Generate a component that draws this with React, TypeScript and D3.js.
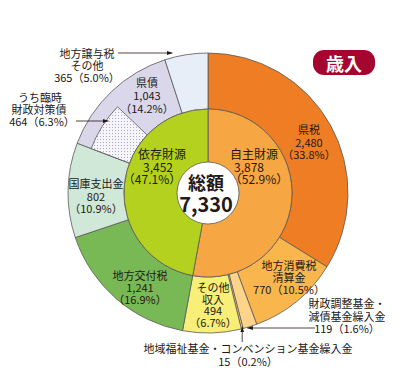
import * as d3 from 'd3';

// 歳入 (outer ring, clockwise from 12 o'clock)
const categories = [
  '県税',
  '地方消費税清算金',
  '財政調整基金・減債基金繰入金',
  '地域福祉基金・コンベンション基金繰入金',
  'その他収入',
  '地方交付税',
  '国庫支出金',
  '県債',
  '地方譲与税その他',
];
const values = [2480, 770, 119, 15, 494, 1241, 802, 1043, 365];
const shares = ['33.8%', '10.5%', '1.6%', '0.2%', '6.7%', '16.9%', '10.9%', '14.2%', '5.0%'];

// inner ring
const groups = ['自主財源', '依存財源'];
const groupValues = [3878, 3452];
const groupShares = ['52.9%', '47.1%'];

// part of 県債
const subName = 'うち臨時財政対策債';
const subValue = 464;
const subShare = '6.3%';

const totalLabel = '総額';
const total = 7330;

const outerColors = ['#ee7d23', '#f9b64d', '#fdd48a', '#fdd48a', '#f8ef78', '#78b956', '#cfe8d8', '#dad7ea', '#e7eef7'];
const groupColors = ['#f6a642', '#b4d11f'];

// label layout: name lines, whether value/share share a line, centre of first line
const labelLayout: { lines: string[]; joined: boolean; x: number; y: number; lh: number }[] = [
  { lines: ['県税'], joined: false, x: 309, y: 129, lh: 12.5 },
  { lines: ['地方消費税', '清算金'], joined: true, x: 289, y: 265, lh: 12 },
  { lines: ['財政調整基金・', '減債基金繰入金'], joined: true, x: 347, y: 303, lh: 12.5 },
  { lines: ['地域福祉基金・コンベンション基金繰入金'], joined: true, x: 248, y: 348, lh: 12.5 },
  { lines: ['その他', '収入'], joined: false, x: 213, y: 287, lh: 11.7 },
  { lines: ['地方交付税'], joined: false, x: 140, y: 275, lh: 11.8 },
  { lines: ['国庫支出金'], joined: false, x: 96, y: 183, lh: 12.5 },
  { lines: ['県債'], joined: false, x: 147, y: 82, lh: 13 },
  { lines: ['地方譲与税', 'その他'], joined: true, x: 87, y: 53, lh: 12 },
];

const fmt = d3.format(',');
const W = 411;
const H = 388;
const cx = 208;
const cy = 193;
const R = 140;
const r1 = 84;
const rSub = 125;
const rCenter = 31;
const ink = '#231815';
const font = '"Noto Sans CJK JP", "Noto Sans", sans-serif';

function App() {
  const pie = d3.pie<number>().sort(null).value(d => d);
  const outer = pie(values);
  const inner = pie(groupValues);
  const outerArc = d3.arc<d3.PieArcDatum<number>>().innerRadius(r1).outerRadius(R);
  const innerArc = d3.arc<d3.PieArcDatum<number>>().innerRadius(0).outerRadius(r1);

  const kensai = outer[categories.indexOf('県債')];
  const sumOuter = d3.sum(values);
  const subPath = d3.arc()({
    innerRadius: r1,
    outerRadius: rSub,
    startAngle: kensai.startAngle,
    endAngle: kensai.startAngle + (subValue / sumOuter) * Math.PI * 2,
  }) as string;

  const pt = (a: number, r: number) => [cx + r * Math.sin(a), cy - r * Math.cos(a)];

  // arrow targets from slice geometry
  const zai = outer[2];
  const zaiTip = pt((zai.startAngle + zai.endAngle) / 2 + 0.02, R);
  const fuku = outer[3];
  const fukuTip = pt((fuku.startAngle + fuku.endAngle) / 2, R);
  const joto = outer[8];
  const jotoTip = pt(joto.startAngle + (joto.endAngle - joto.startAngle) * 0.18, R);
  const subMid = pt(kensai.startAngle + (subValue / sumOuter) * Math.PI * 0.9, (r1 + rSub) / 2);

  const textProps = {
    fill: ink,
    fontSize: 11,
    fontFamily: font,
    textAnchor: 'middle' as const,
    dominantBaseline: 'central' as const,
  };

  return (
    <svg width={W} height={H} style={{ position: 'absolute', left: 0, top: 0, background: '#fff' }}>
      <defs>
        <pattern id="dots" width="3" height="3" patternUnits="userSpaceOnUse">
          <rect width="3" height="3" fill="#f5f5fa" />
          <rect width="1" height="1" fill="#a9a8cc" />
        </pattern>
        <marker id="arr" viewBox="0 0 10 10" refX="10" refY="5" markerWidth="7" markerHeight="7" orient="auto">
          <path d="M0,1.5 L10,5 L0,8.5 Z" fill={ink} />
        </marker>
      </defs>

      <g transform={`translate(${cx},${cy})`}>
        {outer.map((d, i) => (
          <path key={categories[i]} d={outerArc(d) as string} fill={outerColors[i]} stroke="#5a5858" strokeWidth={0.8} />
        ))}
        <path d={subPath} fill="url(#dots)" stroke="#5a5858" strokeWidth={0.8} />
        {inner.map((d, i) => (
          <path key={groups[i]} d={innerArc(d) as string} fill={groupColors[i]} stroke="#5a5858" strokeWidth={0.8} />
        ))}
        <circle r={rCenter} fill="#fff" stroke="#5a5858" strokeWidth={0.8} />
      </g>

      {/* centre */}
      <text x={cx - 2} y={cy - 11} {...textProps} fontSize={18} fontWeight="bold">{totalLabel}</text>
      <text x={cx - 2} y={cy + 10} {...textProps} fontSize={20} fontWeight="bold">{fmt(total)}</text>

      {/* inner labels */}
      <text {...textProps} fontSize={12}>
        <tspan x={254} y={153}>{groups[0]}</tspan>
        <tspan x={249} y={165.5}>{fmt(groupValues[0])}</tspan>
        <tspan x={259} y={178}>{`（${groupShares[0]}）`}</tspan>
      </text>
      <text {...textProps} fontSize={12}>
        <tspan x={162} y={153}>{groups[1]}</tspan>
        <tspan x={158} y={165.5}>{fmt(groupValues[1])}</tspan>
        <tspan x={152} y={178}>{`（${groupShares[1]}）`}</tspan>
      </text>

      {/* outer labels */}
      {labelLayout.map((l, i) => {
        const rows = [...l.lines];
        if (l.joined) rows.push(`${fmt(values[i])}（${shares[i]}）`);
        else rows.push(fmt(values[i]), `（${shares[i]}）`);
        return (
          <text key={categories[i]} {...textProps}>
            {rows.map((t, j) => (
              <tspan key={j} x={l.x} y={l.y + j * l.lh}>{t}</tspan>
            ))}
          </text>
        );
      })}

      {/* sub item label */}
      <text {...textProps}>
        <title>{subName}</title>
        <tspan x={40} y={97}>うち臨時</tspan>
        <tspan x={39} y={109}>財政対策債</tspan>
        <tspan x={42} y={121}>{`${subValue}（${subShare}）`}</tspan>
      </text>

      {/* leader arrows */}
      <line x1={118} y1={53} x2={jotoTip[0]} y2={53} stroke={ink} strokeWidth={0.8} markerEnd="url(#arr)" />
      <line x1={76} y1={121} x2={subMid[0] - 10} y2={121} stroke={ink} strokeWidth={0.8} markerEnd="url(#arr)" />
      <line x1={315} y1={328} x2={zaiTip[0]} y2={328} stroke={ink} strokeWidth={0.8} markerEnd="url(#arr)" />
      <line x1={fukuTip[0]} y1={342} x2={fukuTip[0]} y2={fukuTip[1] - 2} stroke={ink} strokeWidth={0.8} markerEnd="url(#arr)" />

      {/* badge */}
      <rect x={313} y={50} width={62} height={25} rx={11} fill="#a5062f" />
      <text x={344} y={63} {...textProps} fill="#fff" fontSize={18} fontWeight="bold">歳入</text>
    </svg>
  );
}

export default App;
